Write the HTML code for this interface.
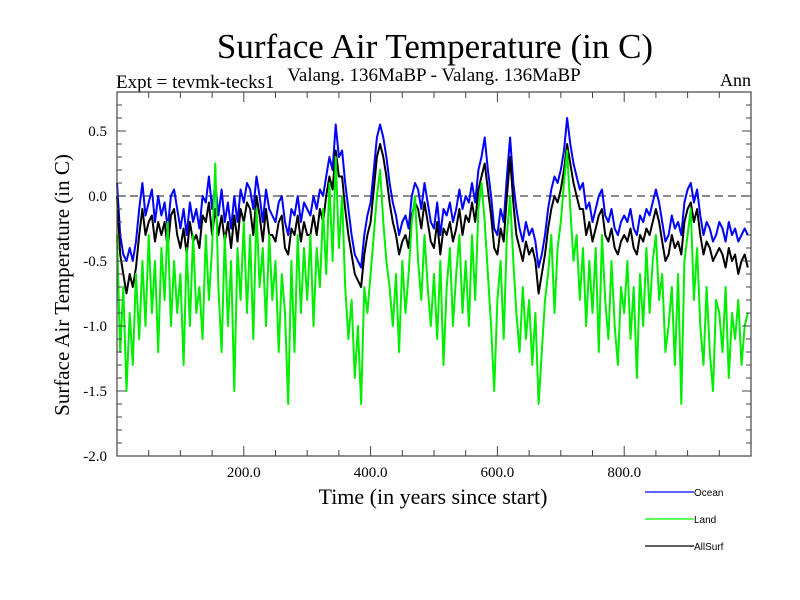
<!DOCTYPE html>
<html><head><meta charset="utf-8"><style>
body{margin:0;background:#fff}
svg{display:block;font-family:"Liberation Serif",serif}
</style></head><body>
<svg id="chart" width="800" height="600" viewBox="0 0 800 600">
<text x="435" y="58" font-size="35" text-anchor="middle">Surface Air Temperature (in C)</text>
<text x="116" y="88" font-size="19">Expt = tevmk-tecks1</text>
<text x="434" y="81" font-size="19" text-anchor="middle">Valang. 136MaBP - Valang. 136MaBP</text>
<text x="751" y="86" font-size="18" text-anchor="end">Ann</text>
<text transform="translate(69,285) rotate(-90)" font-size="21" text-anchor="middle">Surface Air Temperature (in C)</text>
<text x="433" y="504" font-size="22" text-anchor="middle">Time (in years since start)</text>
<g id="plot"></g>
<g id="axes"></g>
<g font-family="Liberation Sans, sans-serif" font-size="10">
 <g><line x1="645" y1="492" x2="694" y2="492" stroke="#0000ff" stroke-width="1.2"/><text x="694" y="496">Ocean</text></g>
 <g><line x1="645" y1="519" x2="694" y2="519" stroke="#00ff00" stroke-width="1.2"/><text x="694" y="523">Land</text></g>
 <g><line x1="645" y1="546" x2="694" y2="546" stroke="#000" stroke-width="1.2"/><text x="694" y="550">AllSurf</text></g>
</g>
</svg>
<script>
const yearStep = 5;
const ocean = [0.1,-0.3,-0.45,-0.5,-0.4,-0.5,-0.35,-0.1,0.1,-0.15,
-0.05,0.05,-0.2,0.0,-0.15,-0.05,-0.25,0.0,0.05,-0.1,
-0.25,-0.1,-0.3,-0.05,-0.2,-0.1,-0.25,0.0,-0.05,0.15,
-0.1,0.1,-0.15,0.05,-0.2,-0.05,-0.25,0.0,-0.2,0.05,
-0.05,0.1,0.05,-0.1,0.15,0.0,-0.2,0.05,-0.1,-0.15,
-0.2,-0.05,0.0,-0.2,-0.3,-0.1,-0.15,0.0,-0.2,-0.05,
-0.1,-0.15,0.0,-0.1,0.05,0.0,0.15,0.3,0.2,0.55,
0.3,0.35,0.1,-0.1,-0.3,-0.45,-0.5,-0.55,-0.3,-0.15,
-0.05,0.2,0.45,0.55,0.45,0.3,0.1,-0.05,-0.15,-0.3,
-0.2,-0.15,-0.25,0.0,0.1,0.05,-0.1,0.1,-0.05,-0.2,
-0.25,-0.05,-0.3,-0.1,-0.15,-0.05,-0.2,-0.1,0.05,-0.1,
0.0,-0.05,0.1,-0.05,0.2,0.3,0.45,0.2,0.0,-0.25,
-0.3,-0.1,-0.2,0.15,0.45,0.1,-0.1,-0.25,-0.35,-0.2,
-0.3,-0.25,-0.35,-0.55,-0.45,-0.3,-0.1,0.05,0.15,0.1,
0.2,0.35,0.6,0.4,0.25,0.15,0.05,0.1,-0.1,-0.05,
-0.2,-0.1,0.0,0.05,-0.15,-0.2,-0.1,-0.25,-0.3,-0.2,
-0.15,-0.2,-0.1,-0.25,-0.3,-0.15,-0.2,-0.1,-0.15,-0.05,
0.05,-0.05,-0.2,-0.35,-0.3,-0.15,-0.25,-0.2,-0.3,-0.05,
0.05,0.1,-0.05,0.05,-0.15,-0.3,-0.2,-0.25,-0.35,-0.3,
-0.2,-0.25,-0.35,-0.2,-0.3,-0.25,-0.35,-0.3,-0.25,-0.3];
const allSurf = [0.0,-0.45,-0.6,-0.75,-0.6,-0.7,-0.55,-0.3,-0.1,-0.3,
-0.2,-0.15,-0.35,-0.2,-0.3,-0.2,-0.4,-0.15,-0.1,-0.3,
-0.4,-0.25,-0.45,-0.2,-0.35,-0.3,-0.4,-0.15,-0.2,-0.05,
-0.3,-0.1,-0.3,-0.15,-0.35,-0.2,-0.4,-0.15,-0.35,-0.1,
-0.2,-0.05,-0.1,-0.3,0.0,-0.15,-0.35,-0.1,-0.3,-0.3,
-0.35,-0.2,-0.15,-0.4,-0.45,-0.25,-0.3,-0.15,-0.35,-0.2,
-0.3,-0.3,-0.15,-0.3,-0.1,-0.2,0.0,0.15,0.05,0.35,
0.15,0.15,-0.1,-0.3,-0.45,-0.6,-0.65,-0.7,-0.45,-0.3,
-0.2,0.05,0.3,0.4,0.3,0.15,-0.05,-0.2,-0.3,-0.45,
-0.35,-0.3,-0.4,-0.15,-0.05,-0.1,-0.25,-0.05,-0.2,-0.35,
-0.4,-0.2,-0.45,-0.25,-0.3,-0.2,-0.35,-0.25,-0.1,-0.3,
-0.15,-0.2,-0.05,-0.2,0.05,0.15,0.25,0.05,-0.15,-0.4,
-0.45,-0.25,-0.35,0.0,0.3,-0.05,-0.3,-0.4,-0.5,-0.35,
-0.45,-0.4,-0.5,-0.75,-0.6,-0.45,-0.25,-0.1,0.0,-0.05,
0.05,0.2,0.4,0.25,0.1,0.0,-0.1,-0.1,-0.3,-0.2,
-0.35,-0.25,-0.15,-0.1,-0.3,-0.35,-0.25,-0.4,-0.45,-0.35,
-0.3,-0.35,-0.25,-0.4,-0.45,-0.3,-0.35,-0.25,-0.3,-0.2,
-0.1,-0.2,-0.35,-0.5,-0.45,-0.3,-0.4,-0.35,-0.45,-0.2,
-0.1,-0.05,-0.2,-0.1,-0.3,-0.45,-0.35,-0.4,-0.5,-0.45,
-0.4,-0.45,-0.55,-0.4,-0.5,-0.45,-0.6,-0.5,-0.45,-0.55];
const land = [-0.3,-1.2,-0.7,-1.5,-0.9,-1.3,-0.6,-1.1,-0.5,-1.0,
-0.3,-0.9,-0.5,-1.2,-0.4,-0.8,-0.2,-1.0,-0.5,-0.9,
-0.6,-1.3,-0.4,-1.0,-0.3,-0.9,-0.7,-1.1,-0.3,-0.8,
-0.4,0.25,-0.7,-1.2,-0.3,-1.0,-0.5,-1.5,-0.4,-0.8,
-0.2,-0.9,-0.3,-1.1,-0.1,-0.7,-0.4,-1.0,-0.3,-0.8,
-0.5,-1.2,-0.6,-0.9,-1.6,-0.5,-1.2,-0.3,-0.9,-0.4,
-0.8,-0.3,-1.0,-0.4,-0.7,-0.1,-0.6,0.1,-0.5,0.3,
-0.4,0.0,-0.7,-1.1,-0.8,-1.4,-1.0,-1.6,-0.7,-0.9,
-0.6,-0.3,0.0,0.2,-0.2,-0.5,-0.7,-1.0,-0.6,-1.2,
-0.5,-0.9,-0.6,-0.2,0.0,-0.5,-0.8,-0.3,-0.7,-1.0,
-0.6,-1.1,-0.5,-1.3,-0.7,-0.4,-1.0,-0.6,-0.3,-0.9,
-0.5,-1.0,-0.3,-0.8,-0.1,0.1,-0.2,-0.6,-1.0,-1.5,
-0.8,-0.5,-1.1,-0.3,0.0,-0.5,-0.9,-1.2,-0.7,-1.1,
-0.8,-1.3,-0.9,-1.6,-1.2,-0.8,-0.6,-0.3,-0.9,-0.4,
-0.2,0.1,0.35,-0.1,-0.5,-0.3,-0.8,-0.4,-1.0,-0.5,
-0.9,-0.4,-1.2,-0.3,-0.8,-1.1,-0.5,-1.0,-1.3,-0.7,
-0.9,-0.5,-1.1,-0.7,-1.4,-0.6,-1.0,-0.4,-0.9,-0.5,
-0.3,-0.8,-0.6,-1.2,-1.0,-0.7,-1.3,-0.6,-1.6,-0.5,
-0.3,-0.1,-0.8,-0.4,-1.0,-1.3,-0.7,-1.2,-1.5,-0.8,
-0.9,-1.2,-0.7,-1.4,-0.9,-1.1,-0.8,-1.3,-1.0,-0.9];
const yTickLabels = ["0.5","0.0","-0.5","-1.0","-1.5","-2.0"];
const yTickValues = [0.5,0.0,-0.5,-1.0,-1.5,-2.0];
const xTickLabels = ["200.0","400.0","600.0","800.0"];
const xTickValues = [200,400,600,800];

const X0=117,X1=751,Y0=92,Y1=456, xMin=0,xMax=1000,yMin=-2.0,yMax=0.8;
const sx=v=>X0+(v-xMin)/(xMax-xMin)*(X1-X0);
const sy=v=>Y1-(v-yMin)/(yMax-yMin)*(Y1-Y0);
const NS="http://www.w3.org/2000/svg";
const plot=document.getElementById('plot'), axes=document.getElementById('axes');
function mk(tag,attrs,parent){const e=document.createElementNS(NS,tag);for(const k in attrs)e.setAttribute(k,attrs[k]);parent.appendChild(e);return e;}

const zl=mk('line',{x1:X0,x2:X1,y1:sy(0),y2:sy(0),stroke:'#444','stroke-width':1.2,'stroke-dasharray':'8,5'},plot);



function series(arr,color,name){
  const d=arr.map((v,i)=>(i?'L':'M')+sx(i*yearStep).toFixed(1)+','+sy(v).toFixed(1)).join('');
  const p=mk('path',{d:d,fill:'none',stroke:color,'stroke-width':2,'stroke-linejoin':'round'},plot);
  
  
}
series(ocean,'#0000ff','ocean-line');
series(allSurf,'#000000','allsurf-line');
series(land,'#00ee00','land-line');

const frame=mk('rect',{x:X0,y:Y0,width:X1-X0,height:Y1-Y0,fill:'none',stroke:'#444','stroke-width':1.2},axes);


for(let k=0;k<=28;k++){
  const v=-2.0+k*0.1, y=sy(v), major=(k%5===0), L=major?9:5;
  mk('line',{x1:X0,x2:X0+L,y1:y,y2:y,stroke:'#444'},axes);
  mk('line',{x1:X1,x2:X1-L,y1:y,y2:y,stroke:'#444'},axes);
}
for(let v=50;v<1000;v+=50){
  const x=sx(v), major=(v%200===0), L=major?10:6;
  mk('line',{x1:x,x2:x,y1:Y1,y2:Y1-L,stroke:'#444'},axes);
  mk('line',{x1:x,x2:x,y1:Y0,y2:Y0+L,stroke:'#444'},axes);
}
yTickValues.forEach((v,i)=>{
  const t=mk('text',{x:107,y:sy(v)+5,'font-size':15,'text-anchor':'end'},axes);
  t.textContent=yTickLabels[i];
  
  
});
xTickValues.forEach((v,i)=>{
  const t=mk('text',{x:sx(v),y:477,'font-size':15,'text-anchor':'middle'},axes);
  t.textContent=xTickLabels[i];
  
  
});
</script>
</body></html>
